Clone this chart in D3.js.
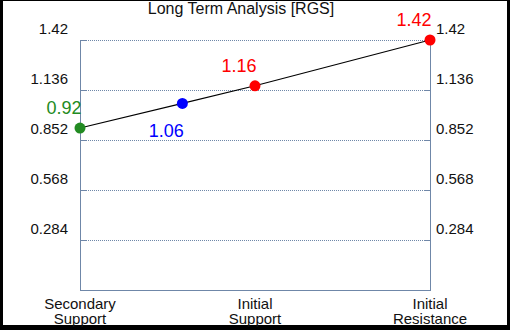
<!DOCTYPE html>
<html>
<head>
<meta charset="utf-8">
<script src="https://cdn.jsdelivr.net/npm/d3@7"></script>
<style>
  body { margin: 0; background: #000; }
  svg { display: block; font-family: "Liberation Sans", Arial, sans-serif; }
</style>
</head>
<body>
<svg id="chart" width="510" height="330"></svg>
<script>
// data
const categories = ["Secondary\nSupport", "Initial\nSupport", "Initial\nResistance"]
const pointX = [0, 0.585, 1, 2]
const pointValues = [0.92, 1.06, 1.16, 1.42]
const pointColors = ["#228b22", "#0000ff", "#ff0000", "#ff0000"]
const labelBelow = [false, true, false, false]
const yTicks = [0.284, 0.568, 0.852, 1.136, 1.42]
const title = "Long Term Analysis [RGS]"

const axisColor = "#6f87a8"
const svg = d3.select('#chart')

// white panel inside the dark frame
svg.append('rect')
    .attr('x', 3).attr('y', 1)
    .attr('width', 504).attr('height', 324)
    .attr('fill', 'white')

const x = d3.scaleLinear().domain([0, 2]).range([80, 430])
const y = d3.scaleLinear().domain([0, 1.42]).range([290, 40])

// gridlines
svg.append('g')
    .selectAll('line')
    .data(yTicks)
    .join('line')
    .attr('x1', x(0)).attr('x2', x(2))
    .attr('y1', d => y(d)).attr('y2', d => y(d))
    .attr('stroke', axisColor)
    .attr('stroke-width', 1)
    .attr('stroke-dasharray', '1,1')
    .attr('shape-rendering', 'crispEdges')

// axes
const axisLeft = d3.axisLeft(y).tickValues(yTicks).tickSize(-6).tickFormat(d3.format(""))
const axisRight = d3.axisRight(y).tickValues(yTicks).tickSize(-6).tickFormat(d3.format(""))

function styleAxis(g, anchor, tx) {
    g.select('.domain').attr('stroke', axisColor).attr('shape-rendering', 'crispEdges')
    g.selectAll('.tick line').attr('stroke', axisColor).attr('shape-rendering', 'crispEdges')
    g.selectAll('.tick text')
        .attr('x', tx).attr('dy', '-0.45em')
        .attr('text-anchor', anchor)
        .attr('fill', '#111')
        .style('font-size', '15px')
        .style('font-family', '"Liberation Sans", Arial, sans-serif')
}

svg.append('g')
    .attr('transform', `translate(${x(0)},0)`)
    .call(axisLeft)
    .call(g => styleAxis(g, 'end', -12))

svg.append('g')
    .attr('transform', `translate(${x(2)},0)`)
    .call(axisRight)
    .call(g => styleAxis(g, 'start', 6))

svg.append('line')
    .attr('x1', x(0)).attr('x2', x(2))
    .attr('y1', y(0)).attr('y2', y(0))
    .attr('stroke', axisColor)
    .attr('shape-rendering', 'crispEdges')

// x labels, two lines each
svg.append('g')
    .selectAll('text')
    .data(categories)
    .join('text')
    .attr('x', (d, i) => x(i))
    .attr('y', 309)
    .attr('text-anchor', 'middle')
    .style('font-size', '15px')
    .attr('fill', '#111')
    .selectAll('tspan')
    .data(d => d.split('\n'))
    .join('tspan')
    .attr('x', function() { return this.parentNode.getAttribute('x') })
    .attr('dy', (d, i) => i == 0 ? 0 : 15)
    .text(d => d)

// line + points
const pts = pointX.map((d, i) => ({x: d, v: pointValues[i], c: pointColors[i], below: labelBelow[i]}))

svg.append('path')
    .datum(pts)
    .attr('d', d3.line().x(d => x(d.x)).y(d => y(d.v)))
    .attr('fill', 'none')
    .attr('stroke', 'black')
    .attr('stroke-width', 1.2)

svg.append('g')
    .selectAll('circle')
    .data(pts)
    .join('circle')
    .attr('cx', d => x(d.x))
    .attr('cy', d => y(d.v))
    .attr('r', 5.5)
    .attr('fill', d => d.c)

svg.append('g')
    .selectAll('text')
    .data(pts)
    .join('text')
    .attr('x', d => x(d.x) - 16)
    .attr('y', d => y(d.v) + (d.below ? 34 : -14))
    .attr('text-anchor', 'middle')
    .attr('fill', d => d.c)
    .style('font-size', '18px')
    .text(d => d.v.toFixed(2))

svg.append('text')
    .attr('x', 241)
    .attr('y', 14)
    .attr('text-anchor', 'middle')
    .attr('fill', '#111')
    .style('font-size', '16px')
    .text(title)
</script>
</body>
</html>
